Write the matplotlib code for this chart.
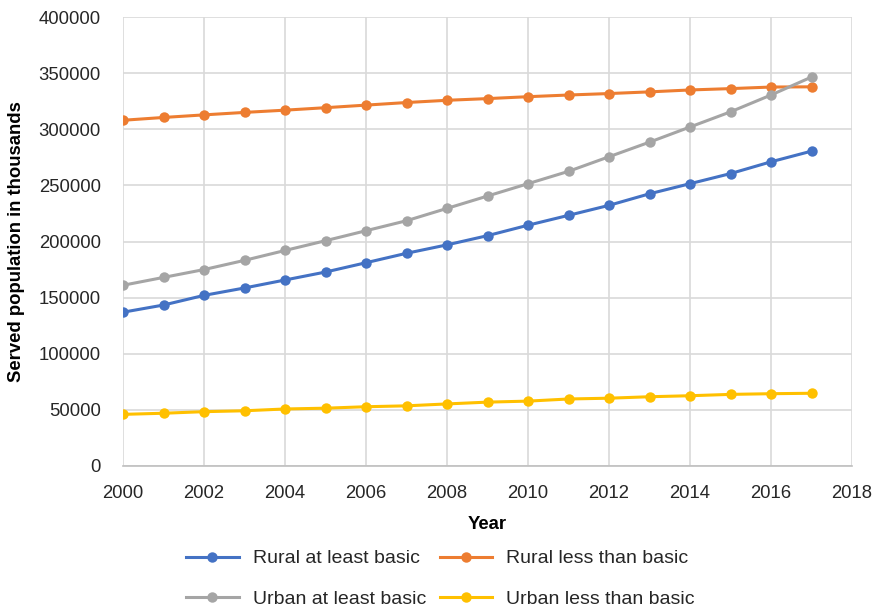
import matplotlib
matplotlib.use("Agg")
import matplotlib.pyplot as plt

plt.rcParams['font.family'] = ['Liberation Sans', 'DejaVu Sans']

years = list(range(2000, 2018))

rural_basic = [137000, 143400, 152000, 158600, 165700, 172800, 181100, 189500, 197000,
               205200, 214500, 223300, 232200, 242500, 251500, 260500, 271000, 280500]
rural_less = [308000, 310500, 312800, 315000, 317000, 319200, 321500, 323800, 325800,
              327300, 329000, 330500, 331800, 333300, 335000, 336200, 337600, 337800]
urban_basic = [161000, 168000, 175000, 183200, 192000, 200700, 209600, 218500, 229500,
               240500, 251500, 262500, 275500, 288500, 302000, 315500, 330500, 346500]
urban_less = [46000, 47000, 48400, 49200, 50800, 51500, 52800, 53600, 55300,
              56900, 57800, 59700, 60400, 61700, 62600, 63800, 64400, 64800]

series = [
    ("Rural at least basic", rural_basic, "#4472C4"),
    ("Rural less than basic", rural_less, "#ED7D31"),
    ("Urban at least basic", urban_basic, "#A5A5A5"),
    ("Urban less than basic", urban_less, "#FFC000"),
]

text_color = "#262626"

fig = plt.figure(figsize=(8.78, 6.09), dpi=100)
ax = fig.add_axes([123 / 878, 1 - 466 / 609, (852 - 123) / 878, (466 - 17) / 609])

lines = []
for label, vals, color in series:
    ln, = ax.plot(years, vals, color=color, lw=2.2, marker='o', ms=7.5,
                  markeredgewidth=0, label=label, zorder=3)
    lines.append(ln)

ax.set_xlim(2000, 2018)
ax.set_ylim(0, 400000)
ax.set_xticks(range(2000, 2019, 2))
ax.set_yticks(range(0, 400001, 50000))
ax.grid(True, color="#D9D9D9", lw=1.2, zorder=0)
ax.set_axisbelow(True)
for s in ["top", "right", "left"]:
    ax.spines[s].set_visible(False)
ax.spines["bottom"].set_color("#BFBFBF")
ax.spines["bottom"].set_linewidth(1.2)
ax.tick_params(length=0, labelsize=13.3, colors=text_color)
ax.tick_params(axis='x', pad=14)
ax.tick_params(axis='y', pad=16)

ax.set_xlabel("Year", fontsize=13.3, fontweight="bold", labelpad=9.5, color="#000000")
ax.set_ylabel("Served population in thousands", fontsize=13.3, fontweight="bold",
              labelpad=9.5, color="#000000")

# legend entries fill row by row: the two rural series on top, urban below
order = [0, 2, 1, 3]
fig.legend([lines[i] for i in order], [series[i][0] for i in order],
           loc="center", bbox_to_anchor=(440.5 / 878, 1 - 579 / 609),
           ncol=2, frameon=False, fontsize=14, handlelength=2.7,
           handletextpad=0.72, columnspacing=0.72, labelspacing=1.2,
           labelcolor=text_color, borderpad=0.2)

fig.savefig("out.png", dpi=100)
